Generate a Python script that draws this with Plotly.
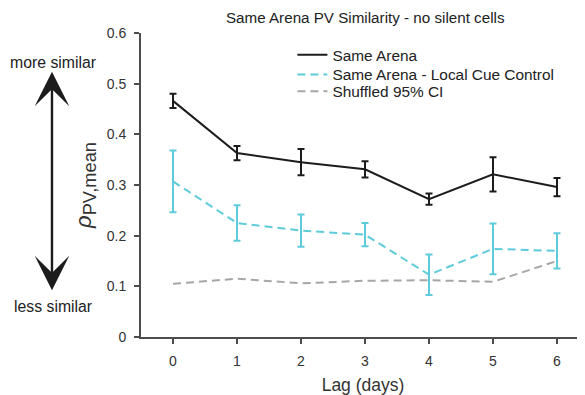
import plotly.graph_objects as go

lags = [0, 1, 2, 3, 4, 5, 6]
same_arena = [0.466, 0.363, 0.345, 0.331, 0.272, 0.321, 0.296]
same_arena_err = [0.014, 0.014, 0.026, 0.016, 0.011, 0.034, 0.018]
local_cue = [0.307, 0.225, 0.210, 0.202, 0.123, 0.174, 0.170]
local_cue_err = [0.061, 0.035, 0.032, 0.023, 0.040, 0.050, 0.035]
shuffled = [0.105, 0.115, 0.106, 0.111, 0.112, 0.109, 0.150]

y_ticks = [0, 0.1, 0.2, 0.3, 0.4, 0.5, 0.6]

FONT = "Liberation Sans, Arial, sans-serif"
CYAN = "#5ecbdb"
BLACK = "#1c1c1c"
GRAY = "#a6a6a6"
AXIS = "#4d4d4d"

fig = go.Figure()
fig.add_trace(go.Scatter(
    x=lags, y=same_arena, mode="lines", name="Same Arena", legend="legend",
    line=dict(color=BLACK, width=2),
    error_y=dict(type="data", array=same_arena_err, color=BLACK, thickness=2, width=3.5),
))
fig.add_trace(go.Scatter(
    x=lags, y=local_cue, mode="lines", name="Same Arena - Local Cue Control", legend="legend2",
    line=dict(color=CYAN, width=2, dash="8px,5px"),
    error_y=dict(type="data", array=local_cue_err, color=CYAN, thickness=2, width=3.5),
))
fig.add_trace(go.Scatter(
    x=lags, y=shuffled, mode="lines", name="Shuffled 95% CI", legend="legend3",
    line=dict(color=GRAY, width=2, dash="8px,5px"),
))

legend_style = dict(x=0.341, xanchor="left", yanchor="middle", bgcolor="rgba(0,0,0,0)",
                    font=dict(size=15.4, color="#222222"), itemwidth=30)

# the page body adds an 8px offset, so the figure is sized/positioned to compensate
fig.update_layout(
    width=577, height=387,
    margin=dict(l=133, r=0, t=25, b=58, autoexpand=False),
    paper_bgcolor="white", plot_bgcolor="white",
    font=dict(family=FONT, size=14, color="#333333"),
    title=dict(text="Same Arena PV Similarity - no silent cells", xref="paper", x=0.505,
               xanchor="center", yref="container", y=0.976, yanchor="middle",
               font=dict(size=15.2, color="#222222")),
    legend=dict(y=0.927, **legend_style),
    legend2=dict(y=0.862, **legend_style),
    legend3=dict(y=0.807, **legend_style),
    showlegend=True,
)
fig.update_xaxes(
    range=[-0.5, 6.4375], tickvals=lags, ticktext=[str(v) for v in lags],
    showline=True, linecolor=AXIS, linewidth=2, ticks="outside", ticklen=5, tickwidth=2,
    tickcolor=AXIS, showgrid=False, zeroline=False, ticklabelstandoff=5,
    title=dict(text="Lag (days)", font=dict(size=17.5, color="#333333"), standoff=12),
)
fig.update_yaxes(
    range=[0, 0.6], tickvals=y_ticks, ticktext=["0", "0.1", "0.2", "0.3", "0.4", "0.5", "0.6"],
    showline=True, linecolor=AXIS, linewidth=2, ticks="outside", ticklen=5, tickwidth=2,
    tickcolor=AXIS, showgrid=False, zeroline=False, ticklabelstandoff=5,
    title=dict(text="<i><span style=\"font-size:22px\">ρ</span></i><sub>PV,mean</sub>",
               font=dict(size=26, color="#333333"), standoff=8),
)

# double-headed arrow indicating direction of similarity
fig.add_annotation(
    xref="paper", yref="paper", x=-0.2005, y=0.8727, ax=0, ay=220,
    axref="pixel", ayref="pixel", text="", showarrow=True,
    arrowhead=3, startarrowhead=3, arrowside="end+start",
    arrowsize=2.4, startarrowsize=2.4, arrowwidth=2.4, arrowcolor=BLACK,
    standoff=0, startstandoff=0,
)
fig.add_annotation(xref="paper", yref="paper", x=-0.1986, y=0.9046, text="more similar",
                   xanchor="center", yanchor="middle",
                   showarrow=False, font=dict(size=15.8, color="#222222"))
fig.add_annotation(xref="paper", yref="paper", x=-0.1986, y=0.0987, text="less similar",
                   xanchor="center", yanchor="middle",
                   showarrow=False, font=dict(size=15.8, color="#222222"))

fig.write_html("out.html")
